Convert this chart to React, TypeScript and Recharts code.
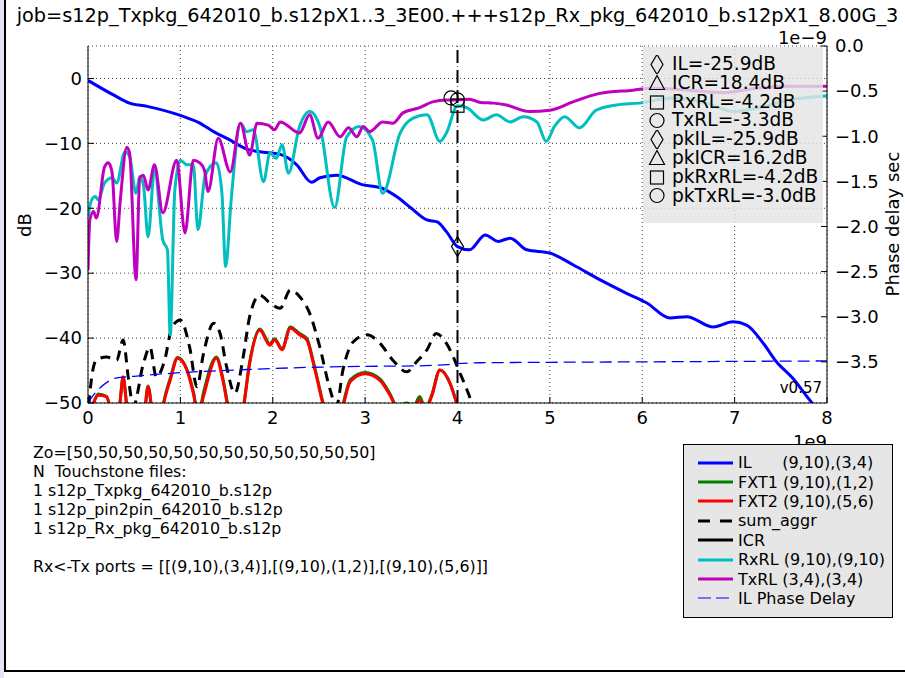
import React from 'react';
import {
  ComposedChart, Line, Scatter, XAxis, YAxis,
  CartesianGrid, ReferenceLine
} from 'recharts';

const FONT = '"DejaVu Sans", Verdana, sans-serif';

// frequency in GHz, magnitudes in dB
const ilFreq = [0, 0.27, 0.45, 0.64, 1.0, 1.2, 1.36, 1.54, 1.72, 1.86, 2.08, 2.26, 2.42, 2.51, 2.69, 2.98, 3.16, 3.34, 3.5, 3.67, 3.78, 3.88, 4.0, 4.13, 4.3, 4.44, 4.57, 4.75, 5.0, 5.25, 5.54, 5.83, 6.05, 6.3, 6.48, 6.77, 6.98, 7.13, 7.31, 7.45, 7.63, 7.81, 7.9];
const ilDb = [-0.3, -2.5, -3.8, -4.3, -5.7, -6.8, -8.2, -9.5, -10.9, -11.3, -11.7, -13.3, -16.0, -15.3, -14.9, -16.4, -16.8, -18.2, -20.0, -21.8, -22.1, -23.6, -25.9, -26.4, -24.1, -25.1, -24.6, -26.4, -26.9, -28.7, -31.0, -33.1, -34.6, -36.9, -36.7, -38.3, -37.5, -38.0, -40.8, -43.6, -46.2, -49.5, -51.0];

const txFreq = [0, 0.02, 0.06, 0.09, 0.18, 0.22, 0.26, 0.31, 0.35, 0.42, 0.45, 0.52, 0.56, 0.6, 0.65, 0.72, 0.81, 0.96, 1.05, 1.14, 1.21, 1.26, 1.3, 1.41, 1.54, 1.65, 1.75, 1.83, 1.95, 2.02, 2.08, 2.29, 2.4, 2.49, 2.6, 2.73, 2.82, 2.91, 2.98, 3.05, 3.19, 3.3, 3.41, 3.59, 3.73, 3.88, 4.0, 4.13, 4.25, 4.39, 4.53, 4.78, 5.0, 5.25, 5.54, 5.9, 6.1, 6.5, 6.88, 7.24, 7.6, 8.0];
const txDb = [-29.5, -21.8, -20.5, -21.5, -13.6, -13.0, -14.4, -25.1, -18.7, -10.6, -11.5, -31.0, -15.3, -14.9, -17.2, -13.3, -20.7, -12.6, -23.8, -12.6, -13.0, -14.1, -17.4, -9.2, -14.4, -6.9, -11.8, -6.9, -7.2, -7.9, -6.7, -8.4, -5.6, -9.2, -6.7, -9.0, -7.6, -9.0, -7.4, -8.2, -6.7, -6.9, -5.3, -4.5, -3.6, -3.3, -3.3, -3.2, -3.7, -3.8, -4.1, -5.1, -4.9, -3.6, -2.3, -1.8, -1.5, -1.8, -2.2, -1.5, -1.2, -1.2];

const rxFreq = [0, 0.04, 0.08, 0.11, 0.18, 0.26, 0.31, 0.4, 0.45, 0.52, 0.56, 0.6, 0.65, 0.72, 0.81, 0.86, 0.89, 0.94, 1.0, 1.07, 1.14, 1.19, 1.27, 1.39, 1.45, 1.49, 1.55, 1.65, 1.72, 1.79, 1.9, 1.97, 2.04, 2.1, 2.17, 2.29, 2.4, 2.51, 2.67, 2.8, 2.94, 3.08, 3.19, 3.38, 3.52, 3.67, 3.81, 3.88, 4.0, 4.1, 4.28, 4.42, 4.57, 4.71, 4.86, 4.96, 5.05, 5.16, 5.32, 5.5, 5.72, 5.97, 6.33, 6.7, 6.98, 7.27, 7.6, 8.0];
const rxDb = [-21.3, -18.7, -18.2, -18.7, -16.1, -15.3, -16.1, -11.3, -12.0, -17.7, -15.1, -16.4, -24.4, -14.1, -24.9, -26.4, -39.5, -17.2, -12.6, -13.3, -13.3, -23.3, -14.9, -13.0, -17.7, -29.0, -18.7, -6.9, -8.2, -7.9, -15.9, -11.5, -12.3, -10.2, -14.6, -7.4, -5.1, -7.4, -19.9, -9.0, -7.4, -9.5, -17.7, -8.4, -6.1, -5.6, -9.7, -8.4, -4.2, -4.5, -6.4, -5.6, -6.7, -5.9, -6.7, -9.7, -7.4, -5.9, -7.6, -4.9, -4.1, -3.8, -3.0, -3.8, -5.1, -4.5, -3.3, -2.7];

const fxFreq = [0, 0.05, 0.11, 0.2, 0.27, 0.34, 0.38, 0.42, 0.5, 0.6, 0.65, 0.7, 0.76, 0.82, 0.89, 0.97, 1.07, 1.14, 1.18, 1.21, 1.25, 1.39, 1.46, 1.52, 1.6, 1.68, 1.75, 1.86, 1.97, 2.02, 2.1, 2.19, 2.29, 2.37, 2.44, 2.55, 2.65, 2.76, 2.84, 3.0, 3.16, 3.27, 3.34, 3.46, 3.52, 3.59, 3.65, 3.72, 3.81, 3.92, 4.0, 4.1];
const fxt2Db = [-53, -50.5, -48.8, -49.0, -52, -50.5, -46.0, -50.5, -55, -53, -47.5, -52, -55, -50, -46.5, -43.1, -44.9, -48.5, -51, -51, -49, -43.1, -46.5, -51, -55, -51, -43.9, -38.8, -41.1, -40.3, -41.8, -38.5, -39.5, -40.3, -43.9, -50.5, -55, -50.5, -46.7, -45.5, -46.5, -48.8, -50.5, -50.2, -51, -49.5, -51, -49, -44.9, -47, -50.5, -56];
const fxt1Db = [-53, -50.4, -48.6, -49.0, -52, -50.4, -46.0, -50.4, -55, -53, -47.4, -52, -55, -49.8, -46.2, -43.0, -44.8, -48.2, -50.8, -50.8, -48.4, -42.9, -46.2, -50.8, -55, -50.8, -43.7, -38.6, -40.9, -40.1, -41.6, -38.3, -39.3, -40.1, -43.7, -50.3, -55, -50.2, -46.4, -45.3, -46.3, -48.6, -50.4, -50.0, -50.8, -49.0, -50.8, -48.8, -44.9, -47, -50.5, -56];

const aggFreq = [0, 0.02, 0.09, 0.2, 0.31, 0.38, 0.44, 0.49, 0.6, 0.67, 0.74, 0.83, 0.91, 1.0, 1.1, 1.18, 1.25, 1.36, 1.43, 1.5, 1.59, 1.68, 1.75, 1.86, 1.97, 2.08, 2.19, 2.29, 2.4, 2.51, 2.62, 2.69, 2.76, 2.87, 3.02, 3.16, 3.3, 3.45, 3.56, 3.67, 3.77, 3.88, 4.03, 4.13, 4.2];
const aggDb = [-53, -48.5, -43.4, -42.9, -43.4, -40.3, -46.5, -50.5, -43.9, -41.4, -46.0, -43.4, -38.3, -37.2, -41.4, -47.5, -42.4, -37.7, -39.3, -44.4, -48.5, -42.9, -36.7, -33.4, -34.6, -35.4, -32.6, -33.6, -36.2, -41.4, -47.9, -50.5, -44.9, -40.6, -39.5, -40.8, -43.4, -45.2, -43.6, -41.8, -39.3, -40.8, -45.5, -49, -52];

// IL phase delay, in units of 1e-9 s
const delayFreq = [0, 0.05, 0.1, 0.2, 0.3, 0.5, 1.0, 1.72, 2.44, 3.0, 3.52, 3.9, 4.0, 4.24, 5.0, 6.0, 7.0, 8.0];
const delayNs = [-3.95, -3.88, -3.82, -3.73, -3.68, -3.66, -3.62, -3.585, -3.56, -3.55, -3.545, -3.53, -3.52, -3.51, -3.505, -3.5, -3.495, -3.49];

// markers at the 4 GHz cursor
const ilMark = [{ f: 4.0, v: -25.9 }];
const rxMark = [{ f: 4.0, v: -4.2 }];
const txMark = [{ f: 4.0, v: -3.3 }, { f: 3.93, v: -3.0 }];

const fTicks = [0, 1, 2, 3, 4, 5, 6, 7, 8];
const dbTicks = [-50, -40, -30, -20, -10, 0];
const delayTicks = [0, -0.5, -1.0, -1.5, -2.0, -2.5, -3.0, -3.5];

const boxRows = [
  { mark: 'diamond', text: 'IL=-25.9dB' },
  { mark: 'triangle', text: 'ICR=18.4dB' },
  { mark: 'square', text: 'RxRL=-4.2dB' },
  { mark: 'circle', text: 'TxRL=-3.3dB' },
  { mark: 'diamond', text: 'pkIL=-25.9dB' },
  { mark: 'triangle', text: 'pkICR=16.2dB' },
  { mark: 'square', text: 'pkRxRL=-4.2dB' },
  { mark: 'circle', text: 'pkTxRL=-3.0dB' },
];

const notes = [
  'Zo=[50,50,50,50,50,50,50,50,50,50,50,50]',
  'N  Touchstone files:',
  '1 s12p_Txpkg_642010_b.s12p',
  '1 s12p_pin2pin_642010_b.s12p',
  '1 s12p_Rx_pkg_642010_b.s12p',
  '',
  'Rx<-Tx ports = [[(9,10),(3,4)],[(9,10),(1,2)],[(9,10),(5,6)]]',
];

const legendRows = [
  { label: 'IL      (9,10),(3,4)', color: '#0000ff', dash: '', w: 3 },
  { label: 'FXT1 (9,10),(1,2)', color: '#008000', dash: '', w: 3 },
  { label: 'FXT2 (9,10),(5,6)', color: '#ff0000', dash: '', w: 3 },
  { label: 'sum_aggr', color: '#000', dash: '12 10', w: 3 },
  { label: 'ICR', color: '#000', dash: '', w: 3 },
  { label: 'RxRL (9,10),(9,10)', color: '#00bfbf', dash: '', w: 3 },
  { label: 'TxRL (3,4),(3,4)', color: '#bf00bf', dash: '', w: 3 },
  { label: 'IL Phase Delay', color: '#0000ff', dash: '13 5', w: 1.2 },
];

const pairs = (fs: number[], vs: number[]) => fs.map((f, i) => ({ f, v: vs[i] }));
const minus = (s: string) => s.replace('-', '\u2212');

function Marker({ kind, cx, cy }: { kind: string; cx: number; cy: number }) {
  const st = { fill: 'none', stroke: '#000', strokeWidth: 1.2 };
  if (kind === 'diamond')
    return <path d={`M${cx},${cy - 10}L${cx + 6},${cy}L${cx},${cy + 10}L${cx - 6},${cy}Z`} {...st} />;
  if (kind === 'square') return <rect x={cx - 6.5} y={cy - 6.5} width={13} height={13} {...st} />;
  if (kind === 'triangle')
    return <path d={`M${cx},${cy - 8}L${cx + 7.5},${cy + 6}L${cx - 7.5},${cy + 6}Z`} {...st} />;
  return <circle cx={cx} cy={cy} r={7} {...st} />;
}

const TICK_LEN = 6;

const LeftTick = ({ x, y, payload }: any) => (
  <g>
    <line x1={x + 6} x2={x + 6 + TICK_LEN} y1={y} y2={y} stroke="#000" />
    <text x={x} y={y} dy="0.35em" textAnchor="end" fontSize={18} fontFamily={FONT} fill="#000">
      {minus(String(payload.value))}
    </text>
  </g>
);

const RightTick = ({ x, y, payload }: any) => (
  <g>
    <line x1={x - 8} x2={x - 8 - TICK_LEN} y1={y} y2={y} stroke="#000" />
    <text x={x} y={y} dy="0.35em" textAnchor="start" fontSize={18} fontFamily={FONT} fill="#000">
      {minus(payload.value.toFixed(1))}
    </text>
  </g>
);

const BottomTick = ({ x, y, payload }: any) => (
  <g>
    <line x1={x} x2={x} y1={y - 8} y2={y - 8 - TICK_LEN} stroke="#000" />
    <text x={x} y={y} dy="0.71em" textAnchor="middle" fontSize={18} fontFamily={FONT} fill="#000">
      {payload.value}
    </text>
  </g>
);

const TopTick = ({ x, y }: any) => (
  <line x1={x} x2={x} y1={y + 2} y2={y + 2 + TICK_LEN} stroke="#000" />
);

export default function App() {
  const il = pairs(ilFreq, ilDb);
  const tx = pairs(txFreq, txDb);
  const rx = pairs(rxFreq, rxDb);
  const fxt1 = pairs(fxFreq, fxt1Db);
  const fxt2 = pairs(fxFreq, fxt2Db);
  const agg = pairs(aggFreq, aggDb);
  const delay = pairs(delayFreq, delayNs);

  const common = { xAxisId: 'bottom', yAxisId: 'left', type: 'monotone' as const, dot: false, isAnimationActive: false, dataKey: 'v' };

  return (
    <div style={{ position: 'absolute', left: 0, top: 0, width: 905, height: 678, background: '#fff', overflow: 'hidden', fontFamily: FONT }}>
      <ComposedChart width={905} height={678} margin={{ top: 46, right: 28, bottom: 245, left: 38 }}>
        <CartesianGrid xAxisId="bottom" yAxisId="left" stroke="#444" strokeDasharray="1 3" strokeWidth={1} />
        <XAxis xAxisId="bottom" dataKey="f" type="number" domain={[0, 8]} ticks={fTicks} height={30}
          tickSize={0} tickMargin={8} tickLine={false} axisLine={{ stroke: '#000' }} tick={BottomTick} allowDataOverflow />
        <XAxis xAxisId="top" orientation="top" dataKey="f" type="number" domain={[0, 8]} ticks={fTicks} height={0}
          tickSize={0} tickMargin={2} tickLine={false} axisLine={{ stroke: '#000' }} tick={TopTick} allowDataOverflow />
        <YAxis yAxisId="left" type="number" domain={[-50, 5]} ticks={dbTicks} width={50}
          tickSize={0} tickMargin={6} tickLine={false} axisLine={{ stroke: '#000' }} tick={LeftTick} allowDataOverflow />
        <YAxis yAxisId="right" orientation="right" type="number" domain={[-3.956, 0]} ticks={delayTicks} width={50}
          tickSize={0} tickMargin={8} tickLine={false} axisLine={{ stroke: '#000' }} tick={RightTick} allowDataOverflow />

        <Line {...common} data={il} stroke="#0000ff" strokeWidth={3} />
        <Line {...common} data={fxt1} stroke="#008000" strokeWidth={3} />
        <Line {...common} data={fxt2} stroke="#ff0000" strokeWidth={3} />
        <Line {...common} data={agg} stroke="#000" strokeWidth={3} strokeDasharray="10 7" />
        <Line {...common} data={rx} stroke="#00bfbf" strokeWidth={3} />
        <Line {...common} data={tx} stroke="#bf00bf" strokeWidth={3} />
        <Line {...common} yAxisId="right" data={delay} stroke="#0000ff" strokeWidth={1.3} strokeDasharray="12 6" />

        <ReferenceLine xAxisId="bottom" yAxisId="left" x={4} stroke="#000" strokeWidth={2} strokeDasharray="13 7" />
        <Scatter xAxisId="bottom" yAxisId="left" data={ilMark} dataKey="v" isAnimationActive={false}
          shape={(p: any) => <Marker kind="diamond" cx={p.cx} cy={p.cy} />} />
        <Scatter xAxisId="bottom" yAxisId="left" data={rxMark} dataKey="v" isAnimationActive={false}
          shape={(p: any) => <Marker kind="square" cx={p.cx} cy={p.cy} />} />
        <Scatter xAxisId="bottom" yAxisId="left" data={txMark} dataKey="v" isAnimationActive={false}
          shape={(p: any) => <Marker kind="circle" cx={p.cx} cy={p.cy} />} />
      </ComposedChart>

      <svg width={905} height={678} style={{ position: 'absolute', left: 0, top: 0, pointerEvents: 'none' }}>
        <text x={457.5} y={22} fontSize={19.3} fontFamily={FONT} textAnchor="middle">
          job=s12p_Txpkg_642010_b.s12pX1..3_3E00.+++s12p_Rx_pkg_642010_b.s12pX1_8.00G_3
        </text>
        <text x={827} y={44} fontSize={18} fontFamily={FONT} textAnchor="end">1e{'\u2212'}9</text>
        <text x={25} y={225} fontSize={18} fontFamily={FONT} textAnchor="middle"
          transform="rotate(-90 25 225)" dy="0.35em">dB</text>
        <text x={893} y={224} fontSize={18} fontFamily={FONT} textAnchor="middle"
          transform="rotate(-90 893 224)" dy="0.35em">Phase delay sec</text>
        <text x={822} y={393} fontSize={15} fontFamily={FONT} textAnchor="end">v0.57</text>
        <text x={810} y={448} fontSize={18} fontFamily={FONT} textAnchor="middle">1e9</text>
        <rect x={0} y={0} width={4} height={678} fill="#e8e4f4" />
        <rect x={4} y={0} width={2} height={672} fill="#000" />
        <rect x={4} y={670} width={901} height={2} fill="#000" />
      </svg>

      <div style={{ position: 'absolute', left: 643, top: 47, width: 180, height: 176, background: 'rgba(228,228,228,0.82)', boxSizing: 'border-box', paddingTop: 8 }}>
        {boxRows.map((r, i) => (
          <div key={i} style={{ height: 18.8, display: 'flex', alignItems: 'center', fontSize: 18.6, lineHeight: '18.8px', whiteSpace: 'nowrap' }}>
            <svg width={29} height={19} style={{ flex: 'none' }}>
              <Marker kind={r.mark} cx={14} cy={9.5} />
            </svg>
            <span>{r.text}</span>
          </div>
        ))}
      </div>

      <div style={{ position: 'absolute', left: 33, top: 443, fontSize: 15.8, lineHeight: '19px', whiteSpace: 'pre' }}>
        {notes.map((n, i) => <div key={i} style={{ height: 19 }}>{n}</div>)}
      </div>

      <div style={{ position: 'absolute', left: 683, top: 444, width: 210, height: 174, background: '#e6e6e6', border: '1.5px solid #000', boxSizing: 'border-box', paddingTop: 8 }}>
        {legendRows.map((r, i) => (
          <div key={i} style={{ height: 19.4, display: 'flex', alignItems: 'center', fontSize: 16, whiteSpace: 'pre' }}>
            <svg width={54} height={10} style={{ flex: 'none' }}>
              <line x1={14} x2={49} y1={5} y2={5} stroke={r.color} strokeWidth={r.w} strokeDasharray={r.dash || undefined} />
            </svg>
            <span>{r.label}</span>
          </div>
        ))}
      </div>
    </div>
  );
}
